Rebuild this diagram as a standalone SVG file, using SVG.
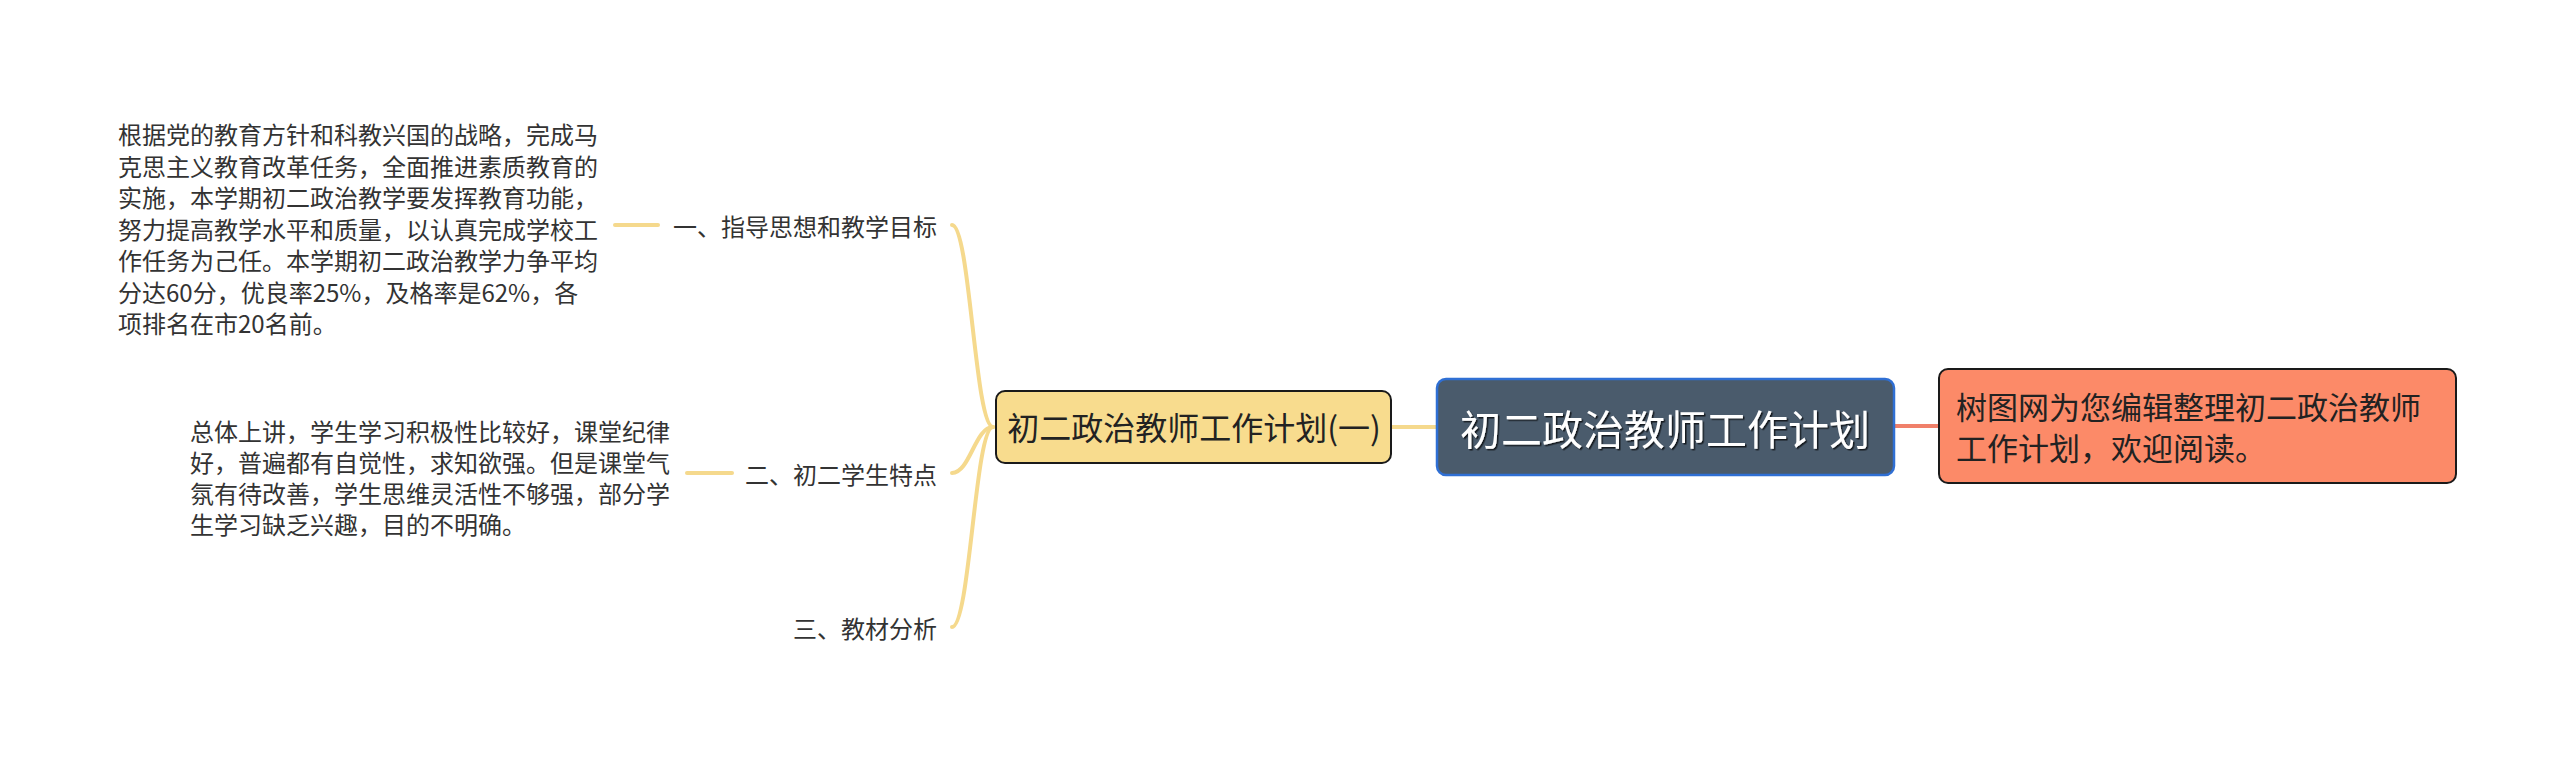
<svg xmlns="http://www.w3.org/2000/svg" width="2560" height="760" viewBox="0 0 2560 760">
<style>
.f{font-family:"Noto Sans CJK SC","Noto Sans",sans-serif}
.body{font-size:24px;fill:#333333}
.lab{font-size:24px;fill:#333333;text-anchor:end}
.y{stroke:#f5d98d;stroke-width:4;fill:none;stroke-linecap:round}
.o{stroke:#f0806a;stroke-width:4;fill:none}
</style>
<defs>
<filter id="sh" x="-10%" y="-10%" width="120%" height="130%">
<feDropShadow dx="1.5" dy="1.5" stdDeviation="0.6" flood-color="#000000" flood-opacity="0.7"/>
</filter>
</defs>
<rect width="2560" height="760" fill="#ffffff"/>
<g id="connectors">
<path class="y" d="M993 427 C975 427 970 225 952 225"/>
<path class="y" d="M993 427 C975 427 970 473 952 473"/>
<path class="y" d="M993 427 C975 427 970 627 952 627"/>
<line class="y" x1="615" y1="225" x2="658" y2="225"/>
<line class="y" x1="687" y1="473" x2="732" y2="473"/>
<line class="y" x1="1391" y1="427" x2="1437" y2="427"/>
<line class="o" x1="1894" y1="426" x2="1939" y2="426"/>
</g>
<g id="root">
<rect x="1437" y="379" width="457" height="96" rx="9" fill="#4a5b6c" stroke="#2f6fd4" stroke-width="2.5"/>
<text class="f" x="1665" y="427" font-size="41" fill="#ffffff" text-anchor="middle" dominant-baseline="central" filter="url(#sh)">初二政治教师工作计划</text>
</g>
<g id="summary">
<rect x="1939" y="369" width="517" height="114" rx="9" fill="#fc8a68" stroke="#1a1a1a" stroke-width="2"/>
<text class="f" font-size="31" fill="#222222" dominant-baseline="central"><tspan x="1956" y="405">树图网为您编辑整理初二政治教师</tspan><tspan x="1956" y="446">工作计划，欢迎阅读。</tspan></text>
</g>
<g id="plan1">
<rect x="996" y="391" width="395" height="72" rx="9" fill="#f8dc8e" stroke="#1a1a1a" stroke-width="2"/>
<text class="f" x="1194" y="426" font-size="32" fill="#222222" text-anchor="middle" dominant-baseline="central">初二政治教师工作计划(一)</text>
</g>
<g id="label1">
<text class="f lab" x="937" y="225" dominant-baseline="central">一、指导思想和教学目标</text>
</g>
<g id="label2">
<text class="f lab" x="937" y="473" dominant-baseline="central">二、初二学生特点</text>
</g>
<g id="label3">
<text class="f lab" x="937" y="627" dominant-baseline="central">三、教材分析</text>
</g>
<g id="text1">
<text class="f body" dominant-baseline="central">
<tspan x="118" y="133">根据党的教育方针和科教兴国的战略，完成马</tspan>
<tspan x="118" y="165">克思主义教育改革任务，全面推进素质教育的</tspan>
<tspan x="118" y="196">实施，本学期初二政治教学要发挥教育功能，</tspan>
<tspan x="118" y="228">努力提高教学水平和质量，以认真完成学校工</tspan>
<tspan x="118" y="259">作任务为己任。本学期初二政治教学力争平均</tspan>
<tspan x="118" y="291">分达60分，优良率25%，及格率是62%，各</tspan>
<tspan x="118" y="322">项排名在市20名前。</tspan>
</text>
</g>
<g id="text2">
<text class="f body" dominant-baseline="central">
<tspan x="190" y="430">总体上讲，学生学习积极性比较好，课堂纪律</tspan>
<tspan x="190" y="461">好，普遍都有自觉性，求知欲强。但是课堂气</tspan>
<tspan x="190" y="492">氛有待改善，学生思维灵活性不够强，部分学</tspan>
<tspan x="190" y="523">生学习缺乏兴趣，目的不明确。</tspan>
</text>
</g>
</svg>
